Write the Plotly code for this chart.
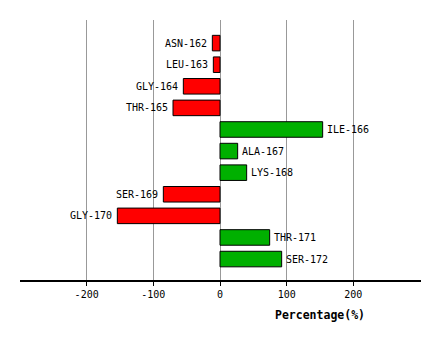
import plotly.graph_objects as go

residues = ["ASN-162", "LEU-163", "GLY-164", "THR-165", "ILE-166", "ALA-167",
            "LYS-168", "SER-169", "GLY-170", "THR-171", "SER-172"]
percentages = [-11.5, -10, -55, -70.5, 154, 26.5, 40, -85, -154, 74.5, 92.5]
tick_values = [-200, -100, 0, 100, 200]
tick_labels = ["-200", "-100", "0", "100", "200"]

pos = list(range(len(residues)))
colors = ["#00B000" if v >= 0 else "#FF0000" for v in percentages]

fig = go.Figure()
fig.add_trace(go.Bar(
    x=percentages, y=pos, orientation="h",
    marker=dict(color=colors, line=dict(color="black", width=1)),
    width=0.72,
    hoverinfo="skip",
))

annotations = []
for name, v, p in zip(residues, percentages, pos):
    annotations.append(dict(
        text=name, x=v, y=p, xref="x", yref="y",
        xanchor="left" if v >= 0 else "right", yanchor="middle",
        xshift=2 if v >= 0 else -3,
        showarrow=False,
        font=dict(family="DejaVu Sans Mono", size=10, color="black"),
    ))

annotations.append(dict(
    text="<b>Percentage(%)</b>",
    x=0.5 + (320 - 220.5) / 401, xref="paper",
    y=-(315 - 280) / 260, yref="paper",
    yanchor="middle", xanchor="center",
    showarrow=False,
    font=dict(family="DejaVu Sans Mono", size=11.5, color="black"),
))

fig.update_layout(
    width=440, height=340,
    margin=dict(l=20, r=19, t=20, b=60),
    plot_bgcolor="white", paper_bgcolor="white",
    showlegend=False,
    font=dict(family="DejaVu Sans Mono", size=10, color="black"),
    xaxis=dict(
        range=[-300, 301.5],
        tickvals=tick_values, ticktext=tick_labels,
        showgrid=True, gridcolor="#999999", gridwidth=1,
        zeroline=False,
        showline=True, linecolor="black", linewidth=1.5,
        ticks="outside", ticklen=4, tickcolor="black",
        tickfont=dict(family="DejaVu Sans Mono", size=10),
    ),
    yaxis=dict(
        range=[10.97, -1.07],
        showgrid=False, zeroline=False, showline=False,
        showticklabels=False, ticks="",
    ),
    annotations=annotations,
)

fig.write_html("out.html")
